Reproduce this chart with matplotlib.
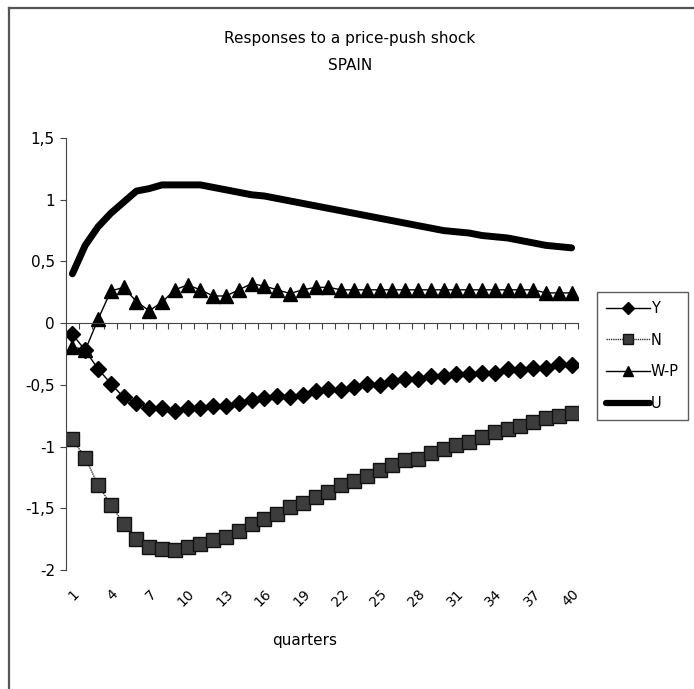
#!/usr/bin/env python3
"""Impulse responses to a price-push shock, Spain (Excel-style line chart)."""
import numpy as np
import matplotlib
matplotlib.use("Agg")
import matplotlib.pyplot as plt
from matplotlib.lines import Line2D

plt.rcParams["font.family"] = ["DejaVu Sans"]

# quarters 1..40
quarters = list(range(1, 41))

resp_y = [-0.09, -0.22, -0.37, -0.49, -0.60, -0.645, -0.685, -0.69, -0.71, -0.69,
          -0.69, -0.67, -0.67, -0.645, -0.62, -0.605, -0.59, -0.60, -0.58, -0.55,
          -0.535, -0.54, -0.515, -0.495, -0.50, -0.47, -0.45, -0.455, -0.43, -0.43,
          -0.41, -0.415, -0.40, -0.40, -0.375, -0.38, -0.36, -0.36, -0.335, -0.34]

resp_n = [-0.94, -1.09, -1.31, -1.47, -1.625, -1.75, -1.81, -1.83, -1.84, -1.81,
          -1.79, -1.76, -1.73, -1.68, -1.63, -1.59, -1.55, -1.49, -1.455, -1.41,
          -1.37, -1.315, -1.275, -1.235, -1.19, -1.15, -1.11, -1.10, -1.05, -1.02,
          -0.985, -0.96, -0.92, -0.88, -0.86, -0.83, -0.80, -0.77, -0.75, -0.73]

resp_wp = [-0.19, -0.22, 0.03, 0.26, 0.29, 0.175, 0.10, 0.17, 0.27, 0.31,
           0.27, 0.22, 0.22, 0.27, 0.32, 0.30, 0.27, 0.24, 0.27, 0.29,
           0.29, 0.27, 0.27, 0.27, 0.27, 0.27, 0.27, 0.27, 0.27, 0.27,
           0.27, 0.27, 0.27, 0.27, 0.27, 0.27, 0.27, 0.245, 0.245, 0.245]

resp_u = [0.40, 0.63, 0.78, 0.89, 0.98, 1.07, 1.09, 1.12, 1.12, 1.12,
          1.12, 1.10, 1.08, 1.06, 1.04, 1.03, 1.01, 0.99, 0.97, 0.95,
          0.93, 0.91, 0.89, 0.87, 0.85, 0.83, 0.81, 0.79, 0.77, 0.75,
          0.74, 0.73, 0.71, 0.70, 0.69, 0.67, 0.65, 0.63, 0.62, 0.61]

xtick_pos = list(range(1, 41, 3))
xtick_labels = [str(q) for q in xtick_pos]
ytick_pos = [1.5, 1.0, 0.5, 0.0, -0.5, -1.0, -1.5, -2.0]
ytick_labels = ["1,5", "1", "0,5", "0", "-0,5", "-1", "-1,5", "-2"]

W, H = 694, 689
fig = plt.figure(figsize=(W / 100, H / 100), dpi=100)
ax = fig.add_axes([66 / W, 1 - 570 / H, 512 / W, 432 / H])

ax.plot(quarters, resp_y, color="black", lw=1.0, marker="D", ms=8.5,
        mfc="black", mec="black", label="Y")
ax.plot(quarters, resp_n, color="#333333", lw=1.0, ls=(0, (1, 0.6)), marker="s", ms=9.5,
        mfc="#3c3c3c", mec="#111111", mew=1.0, label="N")
ax.plot(quarters, resp_wp, color="black", lw=1.0, marker="^", ms=10,
        mfc="black", mec="black", label="W-P")
ax.plot(quarters, resp_u, color="black", lw=5.0, solid_capstyle="round", label="U")

ax.set_xlim(0.5, 40.5)
ax.set_ylim(-2.0, 1.5)

# y axis
ax.spines["right"].set_visible(False)
ax.spines["top"].set_visible(False)
ax.spines["left"].set_color("#444444")
ax.set_yticks(ytick_pos, ytick_labels)
ax.tick_params(axis="y", direction="out", length=4, width=0.8, labelsize=11, pad=4,
               color="#444444")

# x axis line crosses at y=0, ticks between categories
ax.spines["bottom"].set_position(("data", 0))
ax.spines["bottom"].set_color("#444444")
ax.set_xticks(np.arange(0.5, 41, 1.0))
ax.tick_params(axis="x", direction="out", length=4, width=0.8, color="#444444",
               labelbottom=False)

# category labels at the bottom of the plot area
sec = ax.secondary_xaxis("bottom")
sec.spines["bottom"].set_visible(False)
sec.set_xticks(xtick_pos, xtick_labels)
sec.tick_params(length=0, pad=12, labelsize=10)
for lbl in sec.get_xticklabels():
    lbl.set_rotation(45)
    lbl.set_ha("right")
    lbl.set_rotation_mode("anchor")

fig.text(305 / W, 1 - 640 / H, "quarters", ha="center", va="center", fontsize=11)
fig.text(350 / W, 1 - 38 / H, "Responses to a price-push shock", ha="center",
         va="center", fontsize=11)
fig.text(350 / W, 1 - 65 / H, "SPAIN", ha="center", va="center", fontsize=11)

leg = ax.legend(loc="upper left", bbox_to_anchor=(597 / W, 1 - 292 / H),
                bbox_transform=fig.transFigure, frameon=True, fancybox=False,
                edgecolor="#333333", handlelength=3.0, handletextpad=0.1,
                labelspacing=1.15, fontsize=10.5, borderpad=0.6, borderaxespad=0,
                markerscale=0.7)
leg.get_frame().set_linewidth(1.0)
for h in leg.get_lines():
    if h.get_linewidth() > 3:
        h.set_linewidth(4.5)

# outer chart frame (left and top edges)
fig.add_artist(Line2D([9 / W, 9 / W], [0, 1 - 8 / H], transform=fig.transFigure,
                      color="#555555", lw=1.6))
fig.add_artist(Line2D([9 / W, 1], [1 - 8 / H, 1 - 8 / H], transform=fig.transFigure,
                      color="#555555", lw=1.6))

fig.savefig("out.png", dpi=100)
